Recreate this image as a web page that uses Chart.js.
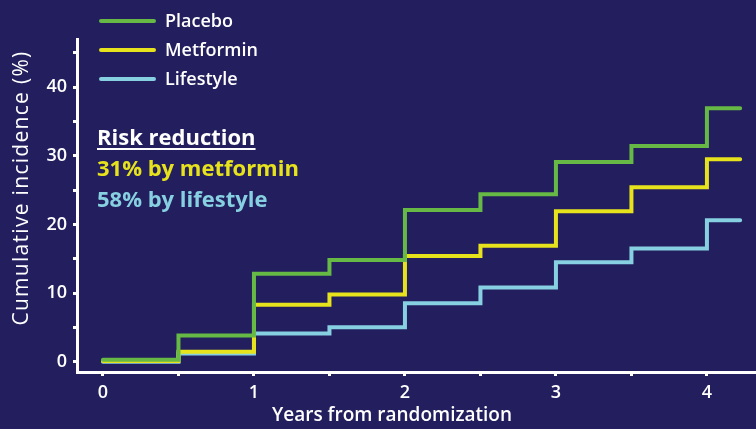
<!DOCTYPE html>
<html>
<head>
<meta charset="utf-8">
<script src="https://cdn.jsdelivr.net/npm/chart.js@4.4.1/dist/chart.umd.min.js"></script>
<style>
  html, body { margin: 0; padding: 0; background: #231f5e; }
  #wrap { width: 756px; height: 429px; position: relative; }
</style>
</head>
<body>
<div id="wrap"><canvas id="myChart"></canvas></div>
<script>
// years since randomization (last point = end of follow-up line)
const years = [0, 0.5, 1, 1.5, 2, 2.5, 3, 3.5, 4, 4.22];
const placebo = [0.3, 3.8, 12.8, 14.8, 22.1, 24.4, 29.1, 31.4, 36.9, 36.9];
const metformin = [0.1, 1.45, 8.3, 9.8, 15.4, 16.9, 21.9, 25.4, 29.5, 29.5];
const lifestyle = [0, 1.2, 4.1, 5.0, 8.5, 10.8, 14.5, 16.5, 20.6, 20.6];

const seriesNames = ['Placebo', 'Metformin', 'Lifestyle'];
const seriesColors = ['#66b945', '#e6e21c', '#87d0e1'];

const xTicks = [0, 0.5, 1, 1.5, 2, 2.5, 3, 3.5, 4];
const yTicks = [0, 5, 10, 15, 20, 25, 30, 35, 40, 45];

const xTitle = 'Years from randomization';
const yTitle = 'Cumulative incidence (%)';
const noteLines = ['Risk reduction', '31% by metformin', '58% by lifestyle'];
const noteColors = ['#ffffff', '#e6e21c', '#87d0e1'];

const FONT = '"Open Sans", "DejaVu Sans", sans-serif';

const toPts = vals => years.map((x, i) => ({ x: x, y: vals[i] }));

const extras = {
  id: 'extras',
  afterDraw(chart) {
    const c = chart.ctx;
    const area = chart.chartArea;
    c.save();

    // legend (top-left, inside)
    c.lineWidth = 4;
    c.lineCap = 'round';
    c.textBaseline = 'middle';
    c.textAlign = 'left';
    c.font = '600 18px ' + FONT;
    chart.data.datasets.forEach((ds, i) => {
      const y = 21 + i * 29;
      c.strokeStyle = ds.borderColor;
      c.beginPath();
      c.moveTo(area.left + 24, y);
      c.lineTo(area.left + 77, y);
      c.stroke();
      c.fillStyle = '#ffffff';
      c.fillText(ds.label, area.left + 88, y + 1);
    });

    // risk reduction note
    c.textBaseline = 'alphabetic';
    noteLines.forEach((t, i) => {
      c.font = '700 22px ' + FONT;
      c.fillStyle = noteColors[i];
      const y = 145 + i * 31;
      c.fillText(t, area.left + 20, y);
      if (i === 0) {
        const w = c.measureText(t).width;
        c.fillRect(area.left + 20, y + 3, w, 2);
      }
    });

    // axis titles
    c.fillStyle = '#ffffff';
    c.textAlign = 'center';
    c.textBaseline = 'middle';
    c.font = '600 19px ' + FONT;
    c.fillText(xTitle, 392, 416);
    c.translate(22, 188);
    c.rotate(-Math.PI / 2);
    c.font = '500 21px ' + FONT;
    c.letterSpacing = '1.3px';
    c.fillText(yTitle, 0, 0);
    c.restore();
  }
};

const ctx = document.querySelector('#myChart');
const chart = new Chart(ctx, {
  type: 'line',
  data: {
    datasets: [
      { label: seriesNames[0], data: toPts(placebo), borderColor: seriesColors[0] },
      { label: seriesNames[1], data: toPts(metformin), borderColor: seriesColors[1] },
      { label: seriesNames[2], data: toPts(lifestyle), borderColor: seriesColors[2] }
    ]
  },
  options: {
    responsive: true,
    maintainAspectRatio: false,
    animation: false,
    layout: { padding: { top: 39, right: 0, left: 0, bottom: 0 } },
    datasets: {
      line: {
        stepped: 'before',
        borderWidth: 4,
        borderCapStyle: 'round',
        fill: false,
        pointRadius: 0
      }
    },
    plugins: {
      legend: { display: false },
      tooltip: { enabled: false }
    },
    scales: {
      x: {
        type: 'linear',
        min: -0.172,
        max: 4.325,
        afterBuildTicks: s => { s.ticks = xTicks.map(v => ({ value: v })); },
        afterFit: s => { s.height = 57; },
        ticks: {
          autoSkip: false,
          maxRotation: 0,
          padding: 6,
          color: '#ffffff',
          font: { family: FONT, size: 18, weight: '600' },
          callback: v => Number.isInteger(v) ? String(v) : ''
        },
        grid: {
          display: true,
          drawOnChartArea: false,
          drawTicks: true,
          tickLength: 4,
          tickWidth: 3,
          tickColor: '#ffffff'
        },
        border: { display: true, color: '#ffffff', width: 3 }
      },
      y: {
        min: -1.5,
        max: 47,
        afterBuildTicks: s => { s.ticks = yTicks.map(v => ({ value: v })); },
        afterFit: s => { s.width = 77; },
        ticks: {
          autoSkip: false,
          padding: 6,
          color: '#ffffff',
          font: { family: FONT, size: 18, weight: '600' },
          callback: v => v % 10 === 0 ? String(v) : ''
        },
        grid: {
          display: true,
          drawOnChartArea: false,
          drawTicks: true,
          tickLength: 4,
          tickWidth: 3,
          tickColor: '#ffffff'
        },
        border: { display: true, color: '#ffffff', width: 3 }
      }
    }
  },
  plugins: [extras]
});
</script>
</body>
</html>
